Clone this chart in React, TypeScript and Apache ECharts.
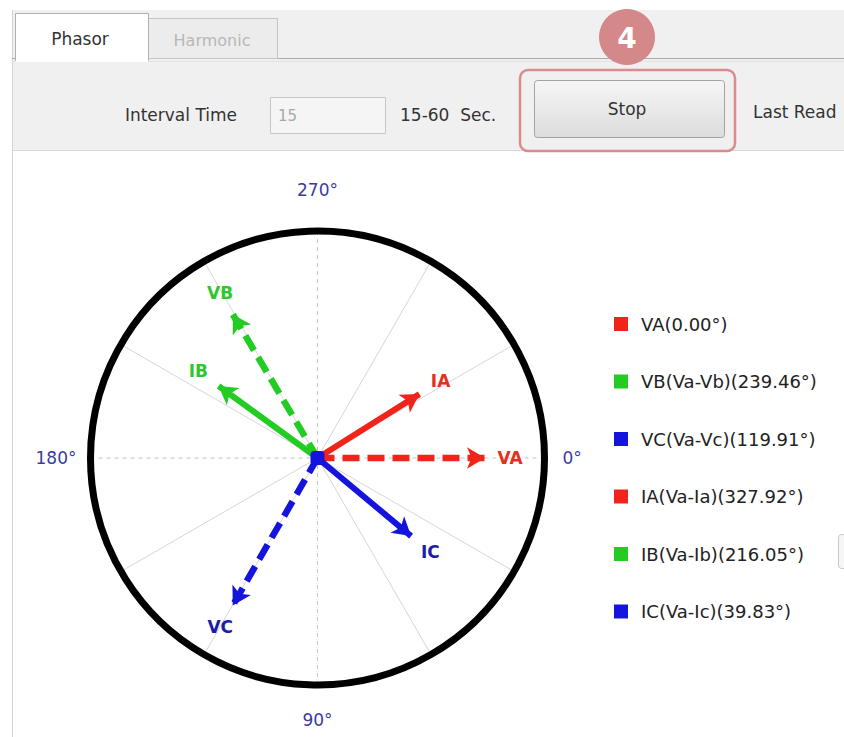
import React, { useEffect, useRef } from 'react';
import * as echarts from 'echarts';

// ---- data ----
const phasorNames = ['VA', 'IA', 'VB', 'IB', 'VC', 'IC'];
const phasorAngles = [0.0, 327.92, 239.46, 216.05, 119.91, 39.83];
const phasorMagnitudes = [73.8, 53.0, 73.4, 53.9, 74.9, 53.7];
const legendOrder = ['VA', 'VB', 'VC', 'IA', 'IB', 'IC'];
const angleTicks = [0, 90, 180, 270];
const radiusMax = 100;

const FONT = '"DejaVu Sans", Verdana, sans-serif';
const RED = '#f0241a';
const GREEN = '#22cc22';
const BLUE = '#1414dc';
const colorOf = (n: string) => (n[1] === 'A' ? RED : n[1] === 'B' ? GREEN : BLUE);
const labelColorOf = (n: string) => (n[1] === 'A' ? '#e4301e' : n[1] === 'B' ? '#2ec82e' : '#1c1ca6');

const legendText = (name: string) => {
  const i = phasorNames.indexOf(name);
  const ang = phasorAngles[i].toFixed(2);
  if (name === 'VA') return `VA(${ang}°)`;
  return `${name}(Va-${name[0]}${name[1].toLowerCase()})(${ang}°)`;
};

export default function App() {
  const ref = useRef<HTMLDivElement>(null);
  useEffect(() => {
    if (!ref.current) return;
    const chart = echarts.init(ref.current, undefined, { renderer: 'svg' });

    const lineSeries: any[] = phasorNames.map((n, i) => {
      const isV = n[0] === 'V';
      const ang = phasorAngles[i];
      const col = colorOf(n);
      const origin: any = { value: [0, ang], symbol: 'none' };
      if (n === 'IC') {
        origin.symbol = 'roundRect';
        origin.symbolSize = 14;
      }
      return {
        type: 'line',
        name: n,
        coordinateSystem: 'polar',
        polarIndex: 0,
        silent: true,
        data: [
          origin,
          { value: [phasorMagnitudes[i], ang], symbol: 'arrow', symbolSize: [16, 18], symbolRotate: 270 - ang },
        ],
        lineStyle: { color: col, width: isV ? 6.5 : 6, type: isV ? [17, 8] : 'solid', cap: 'butt' },
        itemStyle: { color: col, opacity: 1 },
        emphasis: { disabled: true },
        z: 3,
      };
    });

    const labelSeries = {
      type: 'scatter',
      coordinateSystem: 'polar',
      polarIndex: 0,
      silent: true,
      symbolSize: 1,
      itemStyle: { color: 'rgba(255,255,255,0)', opacity: 1 },
      label: {
        show: true,
        position: 'inside',
        formatter: '{b}',
        fontFamily: FONT,
        fontWeight: 'bold',
        fontSize: 17,
        opacity: 1,
      },
      data: phasorNames.map((n, i) => ({
        name: n,
        value: [phasorMagnitudes[i] + 11, phasorAngles[i]],
        label: { color: labelColorOf(n) },
      })),
      z: 4,
    };

    const hiddenRadius = {
      min: 0,
      max: radiusMax,
      axisLine: { show: false },
      axisTick: { show: false },
      axisLabel: { show: false },
      splitLine: { show: false },
    };

    const richBase = { color: '#3a3c9e', fontSize: 17, fontFamily: FONT };

    chart.setOption({
      animation: false,
      backgroundColor: '#ffffff',
      polar: [
        { center: [317.5, 458], radius: 227 },
        { center: [317.5, 458], radius: 227 },
      ],
      angleAxis: [
        {
          polarIndex: 0,
          type: 'value',
          min: 0,
          max: 360,
          interval: 30,
          startAngle: 0,
          clockwise: true,
          axisLine: { show: true, lineStyle: { color: '#000000', width: 7 } },
          axisTick: { show: false },
          axisLabel: { show: false },
          splitLine: { show: true, lineStyle: { color: ['transparent', '#d6d6d6', '#d6d6d6'], width: 1 } },
          z: 2,
        },
        {
          polarIndex: 1,
          type: 'value',
          min: 0,
          max: 360,
          interval: 90,
          startAngle: 0,
          clockwise: true,
          axisLine: { show: false },
          axisTick: { show: false },
          splitLine: { show: true, lineStyle: { color: '#c4c4c4', width: 1, type: [4, 4] } },
          axisLabel: {
            show: true,
            margin: 14,
            formatter: (v: number) => (angleTicks.includes(v) ? `{a${v}|${v}°}` : ''),
            rich: {
              a0: { ...richBase, padding: [0, 0, 0, 4] },
              a90: { ...richBase, padding: [12, 0, 0, 0] },
              a180: { ...richBase },
              a270: { ...richBase, padding: [0, 0, 19, 0] },
            },
          },
          z: 1,
        },
      ],
      radiusAxis: [
        { polarIndex: 0, ...hiddenRadius },
        { polarIndex: 1, ...hiddenRadius },
      ],
      legend: {
        data: legendOrder,
        orient: 'vertical',
        left: 609,
        top: 310,
        itemWidth: 14,
        itemHeight: 14,
        itemGap: 39.5,
        icon: 'rect',
        selectedMode: false,
        formatter: legendText,
        textStyle: { color: '#222222', fontSize: 18, fontFamily: FONT, padding: [0, 0, 0, 8] },
      },
      series: [...lineSeries, labelSeries],
      graphic: [
        // panel background
        { type: 'rect', shape: { x: 12, y: 10, width: 832, height: 140 }, style: { fill: '#f0f0f0' }, z: -10 },
        { type: 'line', shape: { x1: 12.5, y1: 10, x2: 12.5, y2: 737 }, style: { stroke: '#d4d4d4', lineWidth: 1 }, z: -9 },
        { type: 'line', shape: { x1: 12, y1: 58.5, x2: 844, y2: 58.5 }, style: { stroke: '#a9a9a9', lineWidth: 1 }, z: -9 },
        { type: 'line', shape: { x1: 12, y1: 61.5, x2: 844, y2: 61.5 }, style: { stroke: '#e2e2e2', lineWidth: 1 }, z: -9 },
        { type: 'line', shape: { x1: 12, y1: 150.5, x2: 844, y2: 150.5 }, style: { stroke: '#d8d8d8', lineWidth: 1 }, z: -9 },
        // tabs
        { type: 'rect', shape: { x: 148.5, y: 18.5, width: 129, height: 40 }, style: { fill: '#ececec', stroke: '#c4c4c4', lineWidth: 1 }, z: -8 },
        { type: 'text', x: 212, y: 40, style: { text: 'Harmonic', fill: '#b8b8b8', fontSize: 16, fontFamily: FONT, align: 'center', verticalAlign: 'middle' }, z: -7 },
        { type: 'rect', shape: { x: 15.5, y: 13.5, width: 133, height: 47 }, style: { fill: '#ffffff', stroke: '#b0b0b0', lineWidth: 1 }, z: -8 },
        { type: 'rect', shape: { x: 16, y: 57, width: 132, height: 5 }, style: { fill: '#ffffff' }, z: -7 },
        { type: 'text', x: 80, y: 39, style: { text: 'Phasor', fill: '#333333', fontSize: 17, fontFamily: FONT, align: 'center', verticalAlign: 'middle' }, z: -7 },
        // toolbar
        { type: 'text', x: 237, y: 115, style: { text: 'Interval Time', fill: '#333333', fontSize: 17, fontFamily: FONT, align: 'right', verticalAlign: 'middle' }, z: -7 },
        { type: 'rect', shape: { x: 270.5, y: 97.5, width: 115, height: 36 }, style: { fill: '#f5f5f5', stroke: '#c6c6c6', lineWidth: 1 }, z: -8 },
        { type: 'text', x: 278, y: 116, style: { text: '15', fill: '#a8a8a8', fontSize: 15, fontFamily: FONT, align: 'left', verticalAlign: 'middle' }, z: -7 },
        { type: 'text', x: 400, y: 115, style: { text: '15-60  Sec.', fill: '#333333', fontSize: 17, fontFamily: FONT, align: 'left', verticalAlign: 'middle' }, z: -7 },
        {
          type: 'rect',
          shape: { x: 534.5, y: 80.5, width: 190, height: 57, r: 3 },
          style: {
            fill: new echarts.graphic.LinearGradient(0, 0, 0, 1, [
              { offset: 0, color: '#f6f6f6' },
              { offset: 1, color: '#dcdcdc' },
            ]),
            stroke: '#a3a3a3',
            lineWidth: 1,
          },
          z: -8,
        },
        { type: 'text', x: 627, y: 109, style: { text: 'Stop', fill: '#333333', fontSize: 17, fontFamily: FONT, align: 'center', verticalAlign: 'middle' }, z: -7 },
        { type: 'rect', shape: { x: 520, y: 70, width: 215, height: 81, r: 8 }, style: { fill: 'none', stroke: '#d98c8e', lineWidth: 2.5 }, z: -6 },
        { type: 'circle', shape: { cx: 627, cy: 37, r: 28 }, style: { fill: '#d4888a' }, z: -6 },
        { type: 'text', x: 627, y: 38, style: { text: '4', fill: '#ffffff', fontSize: 28, fontWeight: 'bold', fontFamily: FONT, align: 'center', verticalAlign: 'middle' }, z: -5 },
        { type: 'text', x: 753, y: 112, style: { text: 'Last Read', fill: '#333333', fontSize: 17, fontFamily: FONT, align: 'left', verticalAlign: 'middle' }, z: -7 },
        // small partly visible control on the right edge
        { type: 'rect', shape: { x: 838.5, y: 534.5, width: 12, height: 34, r: 3 }, style: { fill: '#f6f6f6', stroke: '#c8c8c8', lineWidth: 1 }, z: -8 },
      ],
    });

    return () => chart.dispose();
  }, []);

  return (
    <div
      ref={ref}
      style={{ position: 'absolute', left: 0, top: 0, width: 844, height: 737, background: '#fff' }}
    />
  );
}
